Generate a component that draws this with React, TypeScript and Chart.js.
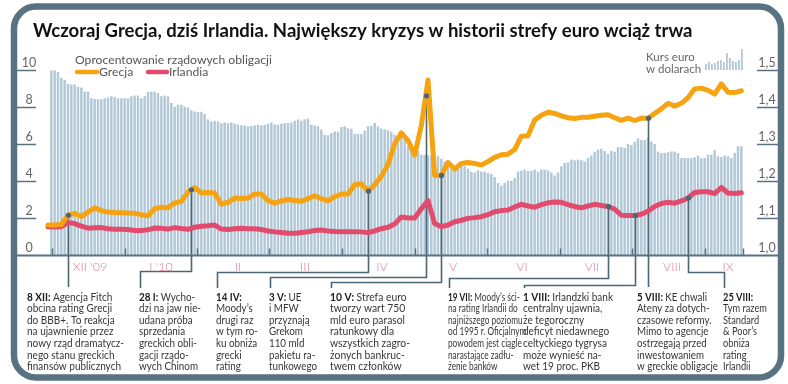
import React, { useEffect, useRef } from "react";
import { Chart, registerables } from "chart.js";
Chart.register(...registerables);

const TITLE = "Wczoraj Grecja, dziś Irlandia. Największy kryzys w historii strefy euro wciąż trwa";
const LEGEND_TITLE = "Oprocentowanie rządowych obligacji";
const seriesNames = ["Grecja", "Irlandia"];
const fxTitle = ["Kurs euro", "w dolarach"];

// EUR/USD, one bar per trading day, day index 1..208
const eurUsd = [
  1.498, 1.498, 1.494, 1.478, 1.473, 1.461, 1.46, 1.46, 1.453, 1.452,
  1.441, 1.441, 1.423, 1.421, 1.42, 1.42, 1.423, 1.425, 1.428, 1.426,
  1.423, 1.423, 1.423, 1.423, 1.428, 1.43, 1.43, 1.423, 1.428, 1.44,
  1.44, 1.44, 1.437, 1.428, 1.43, 1.428, 1.41, 1.4, 1.405, 1.405,
  1.4, 1.398, 1.39, 1.387, 1.385, 1.386, 1.38, 1.365, 1.36, 1.362,
  1.36, 1.355, 1.357, 1.355, 1.357, 1.354, 1.351, 1.35, 1.349, 1.347,
  1.348, 1.349, 1.351, 1.349, 1.351, 1.354, 1.357, 1.352, 1.351, 1.354,
  1.356, 1.356, 1.357, 1.362, 1.365, 1.362, 1.366, 1.368, 1.351, 1.349,
  1.347, 1.338, 1.324, 1.323, 1.329, 1.333, 1.332, 1.345, 1.347, 1.342,
  1.34, 1.327, 1.326, 1.326, 1.335, 1.347, 1.348, 1.356, 1.347, 1.341,
  1.338, 1.336, 1.332, 1.324, 1.32, 1.329, 1.311, 1.293, 1.279, 1.275,
  1.28, 1.27, 1.27, 1.268, 1.268, 1.266, 1.266, 1.259, 1.252, 1.25,
  1.243, 1.23, 1.235, 1.24, 1.239, 1.232, 1.224, 1.222, 1.228, 1.225,
  1.224, 1.221, 1.218, 1.21, 1.194, 1.187, 1.194, 1.2, 1.2, 1.207,
  1.225, 1.227, 1.23, 1.227, 1.227, 1.23, 1.224, 1.23, 1.23, 1.228,
  1.222, 1.214, 1.222, 1.239, 1.248, 1.25, 1.257, 1.255, 1.257, 1.255,
  1.252, 1.261, 1.268, 1.278, 1.284, 1.286, 1.28, 1.272, 1.281, 1.278,
  1.29, 1.29, 1.288, 1.299, 1.296, 1.305, 1.314, 1.31, 1.31, 1.315,
  1.305, 1.299, 1.279, 1.275, 1.275, 1.277, 1.279, 1.279, 1.275, 1.261,
  1.261, 1.261, 1.261, 1.263, 1.268, 1.261, 1.261, 1.27, 1.27, 1.282,
  1.266, 1.264, 1.268, 1.266, 1.261, 1.275, 1.293, 1.293
];

// bond yield lines, one point every 2 trading days (day index 0,2,...,208)
const greece = [
  1.62, 1.62, 1.65, 2.15, 2.25, 2.08, 2.32, 2.55, 2.4, 2.32,
  2.3, 2.29, 2.27, 2.25, 2.18, 2.12, 2.5, 2.58, 2.55, 2.82,
  2.9, 3.4, 3.65, 3.35, 3.38, 3.35, 2.75, 2.85, 3.08, 3.05,
  3.08, 3.3, 3.3, 2.95, 2.8, 2.92, 3.0, 2.95, 2.9, 3.05,
  3.2, 3.05, 2.93, 3.15, 3.3, 3.3, 3.8, 3.85, 3.45, 3.8,
  4.25, 4.9, 6.0, 6.6, 6.2, 5.4, 7.0, 9.46, 4.3, 4.3,
  5.0, 4.65, 4.95, 5.0, 4.95, 4.86, 5.05, 5.28, 5.42, 5.45,
  5.7, 6.42, 6.45, 7.3, 7.55, 7.72, 7.65, 7.52, 7.42, 7.38,
  7.44, 7.45, 7.5, 7.55, 7.58, 7.42, 7.28, 7.4, 7.27, 7.4,
  7.39, 7.65, 7.9, 8.2, 8.05, 8.2, 8.5, 8.98, 9.02, 8.9,
  8.7, 9.25, 8.8, 8.78, 8.88
];
const ireland = [
  1.53, 1.52, 1.53, 1.75, 1.7, 1.56, 1.45, 1.47, 1.48, 1.42,
  1.39, 1.39, 1.38, 1.32, 1.33, 1.36, 1.46, 1.44, 1.4, 1.48,
  1.43, 1.39, 1.5, 1.55, 1.58, 1.62, 1.4, 1.38, 1.42, 1.44,
  1.42, 1.42, 1.38, 1.3, 1.25, 1.22, 1.18, 1.17, 1.22, 1.26,
  1.32, 1.35, 1.3, 1.27, 1.26, 1.26, 1.26, 1.25, 1.21, 1.3,
  1.42, 1.5, 1.68, 2.05, 2.0, 2.0, 2.5, 2.94, 1.7, 1.53,
  1.62, 1.8, 1.88, 1.98, 2.02, 2.07, 2.18, 2.34, 2.4, 2.43,
  2.6, 2.74, 2.65, 2.58, 2.72, 2.82, 2.86, 2.85, 2.72, 2.62,
  2.55, 2.65, 2.74, 2.68, 2.62, 2.48, 2.15, 2.14, 2.13, 2.2,
  2.36, 2.62, 2.78, 2.85, 2.8, 2.92, 3.08, 3.38, 3.42, 3.42,
  3.32, 3.65, 3.35, 3.33, 3.37
];
const LINE_STEP = 2;

const leftTicks = [0, 2, 4, 6, 8, 10];
const rightTicks = [1.0, 1.1, 1.2, 1.3, 1.4, 1.5];
const monthTickIdx = [1.2, 23.1, 44.7, 66.3, 88.2, 110.1, 131.7, 153.6, 175.2, 197.1, 208.5];
const monthLabels = ["XII '09", "I '10", "II", "III", "IV", "V", "VI", "VII", "VIII", "IX"];
const monthLabelIdx = [12.6, 33.9, 57, 77.1, 100.2, 121.5, 142.2, 163.2, 187.2, 204];
const miniBars = [6, 8, 6, 7, 9, 10, 8, 17, 12, 9, 8, 10, 21];

const eventHead = ["8 XII:", "28 I:", "14 IV:", "3 V:", "10 V:", "19 VII:", "1 VIII:", "5 VIII:", "25 VIII:"];
const eventIdx = [6, 43, 96, 113.3, 118, 168, 176, 180, 192];
const eventSeries = ["gr", "gr", "gr", "gr", "gr", "ie", "ie", "gr", "ie"];
const eventBody: string[][] = [
  ["Agencja Fitch", "obcina rating Grecji", "do BBB+. To reakcja", "na ujawnienie przez", "nowy rząd dramatycz-", "nego stanu greckich", "finansów publicznych"],
  ["Wycho-", "dzi na jaw nie-", "udana próba", "sprzedania", "greckich obli-", "gacji rządo-", "wych Chinom"],
  ["", "Moody’s", "drugi raz", "w tym ro-", "ku obniża", "grecki", "rating"],
  ["UE", "i MFW", "przyznają", "Grekom", "110 mld", "pakietu ra-", "tunkowego"],
  ["Strefa euro", "tworzy wart 750", "mld euro parasol", "ratunkowy dla", "wszystkich zagro-", "żonych bankruc-", "twem członków"],
  ["Moody’s ści-", "na rating Irlandii do", "najniższego poziomu", "od 1995 r. Oficjalnym", "powodem jest ciągle", "narastające zadłu-", "żenie banków"],
  ["Irlandzki bank", "centralny ujawnia,", "że tegoroczny", "deficyt niedawnego", "celtyckiego tygrysa", "może wynieść na-", "wet 19 proc. PKB"],
  ["KE chwali", "Ateny za dotych-", "czasowe reformy.", "Mimo to agencje", "ostrzegają przed", "inwestowaniem", "w greckie obligacje"],
  ["", "Tym razem", "Standard", "& Poor’s", "obniża", "rating", "Irlandii"]
];

// layout of the annotation columns and brackets (pixels)
const annTextX = [27, 139, 216, 269, 330, 448, 523, 637, 723];
const annColWidth = [97, 62, 42, 48, 80, 73, 90, 81, 44];
const annBracketY = [0, 271, 272, 277, 282, 278, 285, 0, 272];

const FRAME = "#587282";
const CONN = "#4d6676";
const GR_COLOR = "#f5a311";
const IE_COLOR = "#e24b6c";
const BAR_COLOR = "#b2c8d7";
const FONT = "Lato, 'Open Sans', sans-serif";

function seriesAt(arr: number[], idx: number) {
  const k = idx / LINE_STEP;
  const k0 = Math.max(0, Math.min(arr.length - 1, Math.floor(k)));
  const k1 = Math.min(arr.length - 1, k0 + 1);
  const f = k - k0;
  return arr[k0] * (1 - f) + arr[k1] * f;
}

function roundRectPath(ctx: CanvasRenderingContext2D, x: number, y: number, w: number, h: number, r: number) {
  ctx.beginPath();
  ctx.moveTo(x + r, y);
  ctx.lineTo(x + w - r, y);
  ctx.arcTo(x + w, y, x + w, y + r, r);
  ctx.lineTo(x + w, y + h - r);
  ctx.arcTo(x + w, y + h, x + w - r, y + h, r);
  ctx.lineTo(x + r, y + h);
  ctx.arcTo(x, y + h, x, y + h - r, r);
  ctx.lineTo(x, y + r);
  ctx.arcTo(x, y, x + r, y, r);
  ctx.closePath();
}

const decoPlugin = {
  id: "deco",
  beforeDraw(chart: any) {
    const ctx: CanvasRenderingContext2D = chart.ctx;
    const yL = chart.scales.y;
    const yR = chart.scales.y2;
    ctx.save();
    ctx.fillStyle = "#ffffff";
    ctx.fillRect(0, 0, chart.width, chart.height);

    // frame
    ctx.strokeStyle = FRAME;
    ctx.lineWidth = 6.5;
    roundRectPath(ctx, 14, 6.5, 767, 371, 22);
    ctx.stroke();

    // title
    let ts = 17;
    ctx.font = `700 ${ts}px ${FONT}`;
    const tw = ctx.measureText(TITLE).width;
    ts = ts * 660 / tw;
    ctx.font = `700 ${ts}px ${FONT}`;
    ctx.fillStyle = "#111";
    ctx.textBaseline = "middle";
    ctx.textAlign = "left";
    ctx.fillText(TITLE, 33, 31);

    // legend
    ctx.font = `400 12.5px ${FONT}`;
    const lw = ctx.measureText(LEGEND_TITLE).width;
    const ls = 12.5 * 197 / lw;
    ctx.font = `400 ${ls}px ${FONT}`;
    ctx.fillStyle = "#555";
    ctx.fillText(LEGEND_TITLE, 75, 60);
    ctx.lineCap = "round";
    ctx.lineWidth = 4.5;
    ctx.strokeStyle = GR_COLOR;
    ctx.beginPath(); ctx.moveTo(77, 72); ctx.lineTo(97, 72); ctx.stroke();
    ctx.strokeStyle = IE_COLOR;
    ctx.beginPath(); ctx.moveTo(148, 72); ctx.lineTo(167, 72); ctx.stroke();
    ctx.fillStyle = "#555";
    ctx.fillText(seriesNames[0], 99, 72);
    ctx.fillText(seriesNames[1], 169, 72);

    // fx legend
    ctx.font = `400 11.5px ${FONT}`;
    ctx.fillStyle = "#666";
    ctx.fillText(fxTitle[0], 646, 57);
    ctx.fillText(fxTitle[1], 646, 69);
    ctx.fillStyle = BAR_COLOR;
    miniBars.forEach((h, i) => {
      ctx.fillRect(705 + i * 3, 70 - h, 1.8, h);
    });

    // axis tick segments and labels
    ctx.lineCap = "butt";
    ctx.strokeStyle = FRAME;
    ctx.lineWidth = 1.5;
    ctx.font = `400 12.5px ${FONT}`;
    ctx.fillStyle = "#666";
    ctx.textAlign = "center";
    leftTicks.forEach((v) => {
      const py = Math.round(yL.getPixelForValue(v)) + 0.5;
      if (v !== 0) {
        ctx.beginPath(); ctx.moveTo(17, py); ctx.lineTo(36, py); ctx.stroke();
      }
      ctx.fillText(String(v), 29, py - 8);
    });
    rightTicks.forEach((v) => {
      const py = Math.round(yR.getPixelForValue(v)) + 0.5;
      if (v !== 1.0) {
        ctx.beginPath(); ctx.moveTo(757, py); ctx.lineTo(778, py); ctx.stroke();
      }
      ctx.fillText(v.toFixed(1).replace(".", ","), 767, py - 8);
    });
    ctx.restore();
  },
  afterDatasetDraw(chart: any, args: any) {
    if (args.index !== 0) return;
    const ctx: CanvasRenderingContext2D = chart.ctx;
    const xs = chart.scales.x;
    const yL = chart.scales.y;
    ctx.save();
    ctx.strokeStyle = CONN;
    ctx.lineWidth = 1.6;
    eventIdx.forEach((idx, i) => {
      const arr = eventSeries[i] === "gr" ? greece : ireland;
      const px = Math.round(xs.getPixelForValue(idx)) + 0.5;
      const py = yL.getPixelForValue(seriesAt(arr, idx));
      const tx = annTextX[i] + 1.5;
      const by = annBracketY[i];
      ctx.beginPath();
      if (!by) {
        ctx.moveTo(px, py); ctx.lineTo(px, 287);
      } else {
        ctx.moveTo(px, py); ctx.lineTo(px, by + 0.5); ctx.lineTo(tx, by + 0.5); ctx.lineTo(tx, 288);
      }
      ctx.stroke();
    });
    ctx.restore();
  },
  afterDatasetsDraw(chart: any) {
    const ctx: CanvasRenderingContext2D = chart.ctx;
    const xs = chart.scales.x;
    const yL = chart.scales.y;
    ctx.save();
    // baseline
    ctx.strokeStyle = FRAME;
    ctx.lineWidth = 2;
    const by = yL.getPixelForValue(0) + 0.5;
    ctx.beginPath(); ctx.moveTo(14, by); ctx.lineTo(781, by); ctx.stroke();
    // month ticks
    ctx.lineWidth = 1.5;
    monthTickIdx.forEach((m) => {
      const px = Math.round(xs.getPixelForValue(m)) + 0.5;
      ctx.beginPath(); ctx.moveTo(px, by - 7); ctx.lineTo(px, by); ctx.stroke();
    });
    // event dots
    ctx.fillStyle = CONN;
    eventIdx.forEach((idx, i) => {
      const arr = eventSeries[i] === "gr" ? greece : ireland;
      const px = Math.round(xs.getPixelForValue(idx)) + 0.5;
      const py = yL.getPixelForValue(seriesAt(arr, idx));
      ctx.beginPath(); ctx.arc(px, py, 2.6, 0, Math.PI * 2); ctx.fill();
    });
    // month labels
    ctx.font = `300 12.5px ${FONT}`;
    ctx.fillStyle = "#e27790";
    ctx.textAlign = "center";
    ctx.textBaseline = "middle";
    monthLabels.forEach((lab, i) => {
      ctx.fillText(lab, xs.getPixelForValue(monthLabelIdx[i]), 267);
    });
    // annotation texts, each column fitted to its width
    const REG = `400 11px ${FONT}`;
    const BOLD = `700 11px ${FONT}`;
    const LH = 11.6;
    ctx.textAlign = "left";
    eventHead.forEach((head, i) => {
      ctx.font = BOLD;
      const hw = ctx.measureText(head + " ").width;
      let maxW = 0;
      eventBody[i].forEach((ln, j) => {
        ctx.font = REG;
        const w = (j === 0 ? hw : 0) + (ln ? ctx.measureText(ln).width : 0);
        if (w > maxW) maxW = w;
      });
      const sx = Math.max(0.75, Math.min(1.25, annColWidth[i] / maxW));
      ctx.save();
      ctx.translate(annTextX[i], 297);
      ctx.scale(sx, 1);
      eventBody[i].forEach((ln, j) => {
        const yy = j * LH;
        if (j === 0) {
          ctx.font = BOLD;
          ctx.fillStyle = "#1c1c1c";
          ctx.fillText(head, 0, yy);
          ctx.font = REG;
          ctx.fillStyle = "#363636";
          if (ln) ctx.fillText(ln, hw, yy);
        } else {
          ctx.font = REG;
          ctx.fillStyle = "#363636";
          ctx.fillText(ln, 0, yy);
        }
      });
      ctx.restore();
    });
    ctx.restore();
  }
};

export default function App() {
  const ref = useRef<HTMLCanvasElement | null>(null);
  useEffect(() => {
    document.body.style.margin = "0";
    const canvas = ref.current;
    if (!canvas) return;
    const chart = new Chart(canvas, {
      type: "bar",
      data: {
        datasets: [
          {
            type: "bar",
            label: "EUR/USD",
            data: eurUsd.map((v, i) => ({ x: i + 1, y: v })),
            yAxisID: "y2",
            backgroundColor: BAR_COLOR,
            barThickness: 1.8,
            order: 3
          } as any,
          {
            type: "line",
            label: seriesNames[1],
            data: ireland.map((v, k) => ({ x: k * LINE_STEP, y: v })),
            yAxisID: "y",
            borderColor: IE_COLOR,
            borderWidth: 5,
            pointRadius: 0,
            tension: 0,
            borderJoinStyle: "round",
            borderCapStyle: "round",
            order: 2
          } as any,
          {
            type: "line",
            label: seriesNames[0],
            data: greece.map((v, k) => ({ x: k * LINE_STEP, y: v })),
            yAxisID: "y",
            borderColor: GR_COLOR,
            borderWidth: 5,
            pointRadius: 0,
            tension: 0,
            borderJoinStyle: "round",
            borderCapStyle: "round",
            order: 1
          } as any
        ]
      },
      options: {
        responsive: false,
        devicePixelRatio: 1,
        animation: false,
        layout: { padding: { left: 17, right: 11, top: 70, bottom: 129 } },
        plugins: { legend: { display: false }, tooltip: { enabled: false } },
        scales: {
          x: { type: "linear", min: -9.3, max: 218.7, offset: false, display: false },
          y: { type: "linear", min: 0, max: 10, display: false },
          y2: { type: "linear", min: 1.0, max: 1.5, display: false }
        }
      },
      plugins: [decoPlugin]
    } as any);
    return () => chart.destroy();
  }, []);
  return <canvas ref={ref} width={788} height={384} style={{ display: "block" }} />;
}
